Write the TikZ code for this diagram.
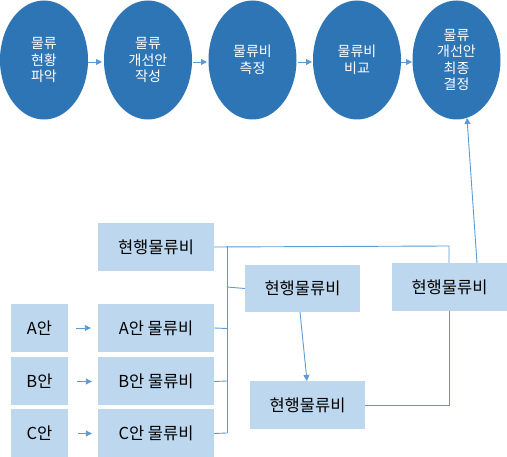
\documentclass[tikz,border=0pt]{standalone}
\usepackage{fontspec}
\setmainfont{Noto Sans CJK KR}
\usetikzlibrary{shapes.geometric,arrows.meta}
\definecolor{dkblue}{HTML}{2E75B6}
\definecolor{ltblue}{HTML}{BDD7EE}
\definecolor{lnblue}{HTML}{5B9BD5}
\begin{document}
\begin{tikzpicture}[x=1pt,y=-1pt,
  oval/.style={ellipse,fill=dkblue,draw=none,minimum width=88pt,minimum height=119pt,inner sep=0pt,text=white,align=center,font=\fontsize{14}{16.5}\selectfont},
  bigbox/.style={rectangle,fill=ltblue,draw=none,minimum width=116pt,minimum height=48pt,inner sep=0pt,font=\fontsize{16.5}{19}\selectfont},
  smallbox/.style={rectangle,fill=ltblue,draw=none,minimum width=57pt,minimum height=48pt,inner sep=0pt,font=\fontsize{16.5}{19}\selectfont},
  conn/.style={draw=lnblue,line width=0.9pt},
  arr/.style={conn,-{Triangle[width=6pt,length=6pt]}}]
\useasboundingbox (0,0) rectangle (507,457);
% top ellipses
\node[oval] (e1) at (44,60) {물류\\현황\\파악};
\node[oval] (e2) at (148,60) {물류\\개선안\\작성};
\node[oval] (e3) at (252.5,60) {물류비\\측정};
\node[oval] (e4) at (357,60) {물류비\\비교};
\node[oval] (e5) at (456.5,60) {물류\\개선안\\최종\\결정};
\draw[arr] (e1.east |- 0,62) -- (102,62);
\draw[arr] (193,62) -- (207,62);
\draw[arr] (298,62) -- (312,62);
\draw[arr] (401,62) -- (412,62);
% boxes
\node[bigbox] (cur) at (156,247) {현행물류비};
\node[smallbox] (a) at (39.5,328) {A안};
\node[smallbox] (b) at (39.5,381.5) {B안};
\node[smallbox] (c) at (39.5,433.5) {C안};
\node[bigbox] (ab) at (156,328) {A안 물류비};
\node[bigbox] (bb) at (156,381.5) {B안 물류비};
\node[bigbox] (cb) at (156,433.5) {C안 물류비};
\node[bigbox,minimum width=115pt,minimum height=47pt] (mid) at (302.5,288.5) {현행물류비};
\node[bigbox,minimum width=115pt,minimum height=48pt] (low) at (307.5,405) {현행물류비};
\node[bigbox,minimum width=115pt,minimum height=48pt] (rb) at (449.5,287) {현행물류비};
% small arrows
\draw[arr] (a.east) ++(8,0) -- ([xshift=-7pt]ab.west);
\draw[arr] (b.east) ++(9,0) -- ([xshift=-6pt]bb.west);
\draw[arr] (c.east) ++(10,0) -- ([xshift=-6pt]cb.west);
% bus
\coordinate (bt) at (227,246);
\coordinate (bb2) at (227,433);
\coordinate (tr) at (449,246);
\draw[conn] (bt) -- (bb2);
\draw[conn] (cur.east) -- (tr) -- (tr |- rb.north);
\draw[conn] (ab.east) -- (227,328.5);
\draw[conn] (bb.east) -- (227,381);
\draw[conn] (cb.east) -- (227,433);
\draw[conn] (227,287) -- (mid.west);
\draw[arr] (300,312) -- (307,381);
\draw[conn] (low.east) -| (tr |- rb.south);
\draw[arr] (477,263) -- (467,118);
\end{tikzpicture}
\end{document}
